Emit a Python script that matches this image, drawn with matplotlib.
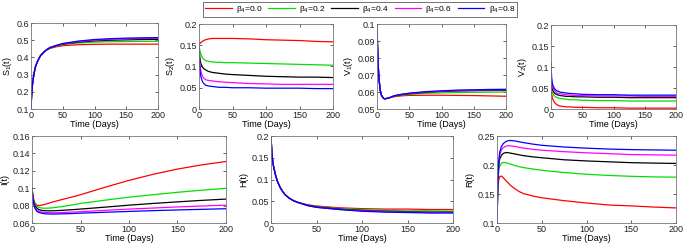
import matplotlib
matplotlib.use("Agg")
import matplotlib.pyplot as plt

plt.rcParams['font.family'] = ['Liberation Sans', 'DejaVu Sans']
plt.rcParams['mathtext.fontset'] = 'custom'
plt.rcParams['mathtext.rm'] = 'Liberation Sans'
plt.rcParams['mathtext.it'] = 'Liberation Sans'

# time grid (days)
T = [0, 1, 2, 3, 5, 7, 10, 12, 15, 20, 25, 30, 40, 50, 75, 100, 125, 150, 175, 200]

BETA4 = ['0.0', '0.2', '0.4', '0.6', '0.8']
COLORS = ['#ff0000', '#00e000', '#000000', '#ff00ff', '#0000ff']

# rows: beta4 = 0.0, 0.2, 0.4, 0.6, 0.8
S1 = [
    [0.10, 0.18, 0.23, 0.265, 0.31, 0.345, 0.375, 0.39, 0.41, 0.43, 0.443, 0.452, 0.462, 0.468, 0.474, 0.476, 0.477, 0.477, 0.477, 0.477],
    [0.10, 0.18, 0.23, 0.265, 0.31, 0.345, 0.375, 0.39, 0.41, 0.43, 0.444, 0.454, 0.466, 0.474, 0.484, 0.489, 0.491, 0.492, 0.493, 0.494],
    [0.10, 0.18, 0.23, 0.265, 0.31, 0.345, 0.375, 0.39, 0.41, 0.43, 0.445, 0.456, 0.468, 0.477, 0.489, 0.496, 0.500, 0.502, 0.504, 0.505],
    [0.10, 0.18, 0.23, 0.265, 0.31, 0.345, 0.375, 0.39, 0.41, 0.43, 0.445, 0.457, 0.469, 0.479, 0.492, 0.500, 0.505, 0.508, 0.510, 0.511],
    [0.10, 0.18, 0.23, 0.265, 0.31, 0.345, 0.375, 0.39, 0.41, 0.43, 0.446, 0.458, 0.470, 0.481, 0.495, 0.504, 0.509, 0.512, 0.514, 0.515],
]

S2 = [
    [0.150, 0.153, 0.155, 0.157, 0.159, 0.161, 0.163, 0.164, 0.165, 0.166, 0.166, 0.166, 0.166, 0.166, 0.165, 0.163, 0.162, 0.161, 0.159, 0.158],
    [0.150, 0.140, 0.133, 0.128, 0.121, 0.117, 0.114, 0.113, 0.112, 0.111, 0.110, 0.110, 0.109, 0.109, 0.108, 0.107, 0.106, 0.105, 0.104, 0.103],
    [0.145, 0.125, 0.113, 0.106, 0.099, 0.095, 0.092, 0.090, 0.088, 0.086, 0.085, 0.084, 0.082, 0.081, 0.079, 0.077, 0.076, 0.075, 0.075, 0.074],
    [0.140, 0.112, 0.097, 0.088, 0.078, 0.073, 0.069, 0.068, 0.067, 0.066, 0.065, 0.064, 0.063, 0.062, 0.060, 0.059, 0.058, 0.058, 0.058, 0.058],
    [0.135, 0.100, 0.084, 0.075, 0.065, 0.060, 0.056, 0.055, 0.054, 0.053, 0.052, 0.051, 0.051, 0.050, 0.050, 0.049, 0.049, 0.049, 0.048, 0.048],
]

V1 = [
    [0.100, 0.085, 0.075, 0.068, 0.061, 0.058, 0.0563, 0.0560, 0.0562, 0.0567, 0.0571, 0.0574, 0.0578, 0.0580, 0.0581, 0.0581, 0.0580, 0.0579, 0.0577, 0.0575],
    [0.100, 0.085, 0.075, 0.068, 0.061, 0.058, 0.0563, 0.0560, 0.0562, 0.0567, 0.0573, 0.0577, 0.0582, 0.0586, 0.0592, 0.0595, 0.0597, 0.0598, 0.0599, 0.0600],
    [0.100, 0.085, 0.075, 0.068, 0.061, 0.058, 0.0563, 0.0560, 0.0562, 0.0567, 0.0574, 0.0579, 0.0585, 0.0590, 0.0598, 0.0603, 0.0606, 0.0608, 0.0609, 0.0610],
    [0.100, 0.085, 0.075, 0.068, 0.061, 0.058, 0.0563, 0.0560, 0.0562, 0.0567, 0.0575, 0.0580, 0.0587, 0.0592, 0.0600, 0.0605, 0.0609, 0.0611, 0.0612, 0.0613],
    [0.100, 0.085, 0.075, 0.068, 0.061, 0.058, 0.0563, 0.0560, 0.0562, 0.0567, 0.0576, 0.0581, 0.0588, 0.0593, 0.0602, 0.0607, 0.0611, 0.0613, 0.0615, 0.0616],
]

V2 = [
    [0.045, 0.035, 0.028, 0.023, 0.017, 0.013, 0.010, 0.008, 0.007, 0.006, 0.005, 0.005, 0.004, 0.004, 0.003, 0.003, 0.002, 0.002, 0.002, 0.002],
    [0.055, 0.045, 0.040, 0.036, 0.032, 0.029, 0.027, 0.026, 0.025, 0.024, 0.023, 0.022, 0.022, 0.021, 0.020, 0.020, 0.019, 0.019, 0.019, 0.019],
    [0.070, 0.055, 0.048, 0.044, 0.039, 0.036, 0.034, 0.033, 0.032, 0.031, 0.030, 0.030, 0.029, 0.029, 0.028, 0.028, 0.027, 0.027, 0.027, 0.027],
    [0.090, 0.065, 0.055, 0.050, 0.045, 0.041, 0.038, 0.037, 0.036, 0.035, 0.034, 0.033, 0.032, 0.032, 0.031, 0.031, 0.031, 0.030, 0.030, 0.030],
    [0.110, 0.075, 0.062, 0.056, 0.050, 0.046, 0.043, 0.042, 0.040, 0.039, 0.038, 0.037, 0.036, 0.035, 0.034, 0.034, 0.033, 0.033, 0.033, 0.033],
]

I = [
    [0.100, 0.091, 0.086, 0.083, 0.0805, 0.0800, 0.0805, 0.0810, 0.0820, 0.0837, 0.0852, 0.0867, 0.0895, 0.0925, 0.1010, 0.1090, 0.1160, 0.1220, 0.1268, 0.1307],
    [0.100, 0.090, 0.085, 0.082, 0.0790, 0.0780, 0.0772, 0.0770, 0.0770, 0.0773, 0.0780, 0.0787, 0.0805, 0.0825, 0.0862, 0.0897, 0.0925, 0.0953, 0.0977, 0.0999],
    [0.100, 0.089, 0.084, 0.080, 0.0770, 0.0755, 0.0745, 0.0742, 0.0740, 0.0740, 0.0742, 0.0745, 0.0752, 0.0760, 0.0782, 0.0805, 0.0825, 0.0843, 0.0860, 0.0875],
    [0.100, 0.088, 0.082, 0.078, 0.0750, 0.0735, 0.0725, 0.0722, 0.0720, 0.0718, 0.0718, 0.0720, 0.0725, 0.0730, 0.0745, 0.0760, 0.0772, 0.0785, 0.0795, 0.0805],
    [0.100, 0.087, 0.081, 0.077, 0.0735, 0.0722, 0.0712, 0.0708, 0.0705, 0.0703, 0.0703, 0.0705, 0.0708, 0.0713, 0.0723, 0.0733, 0.0742, 0.0750, 0.0757, 0.0764],
]

H = [
    [0.200, 0.160, 0.140, 0.128, 0.110, 0.096, 0.082, 0.075, 0.066, 0.057, 0.051, 0.047, 0.042, 0.039, 0.035, 0.033, 0.032, 0.032, 0.031, 0.031],
    [0.200, 0.160, 0.140, 0.128, 0.110, 0.096, 0.082, 0.075, 0.066, 0.057, 0.051, 0.047, 0.041, 0.038, 0.033, 0.031, 0.029, 0.028, 0.028, 0.027],
    [0.200, 0.160, 0.140, 0.128, 0.110, 0.096, 0.082, 0.075, 0.066, 0.057, 0.051, 0.047, 0.041, 0.037, 0.032, 0.029, 0.027, 0.026, 0.025, 0.025],
    [0.200, 0.160, 0.140, 0.128, 0.110, 0.096, 0.082, 0.075, 0.066, 0.057, 0.051, 0.047, 0.040, 0.036, 0.031, 0.028, 0.026, 0.025, 0.024, 0.024],
    [0.200, 0.160, 0.140, 0.128, 0.110, 0.096, 0.082, 0.075, 0.066, 0.057, 0.051, 0.047, 0.040, 0.036, 0.031, 0.027, 0.025, 0.024, 0.023, 0.023],
]

R = [
    [0.100, 0.160, 0.175, 0.180, 0.181, 0.178, 0.173, 0.170, 0.165, 0.159, 0.154, 0.1505, 0.1465, 0.1435, 0.1385, 0.1345, 0.131, 0.1295, 0.1275, 0.126],
    [0.100, 0.170, 0.190, 0.198, 0.203, 0.2045, 0.204, 0.203, 0.2015, 0.199, 0.197, 0.1955, 0.193, 0.191, 0.187, 0.184, 0.182, 0.1805, 0.1795, 0.179],
    [0.100, 0.175, 0.200, 0.210, 0.217, 0.220, 0.2215, 0.2213, 0.2205, 0.219, 0.2175, 0.216, 0.214, 0.2125, 0.209, 0.207, 0.2055, 0.204, 0.2033, 0.2027],
    [0.100, 0.178, 0.205, 0.217, 0.226, 0.230, 0.2325, 0.2333, 0.233, 0.232, 0.2305, 0.229, 0.227, 0.2255, 0.223, 0.221, 0.2195, 0.218, 0.2175, 0.217],
    [0.100, 0.180, 0.208, 0.222, 0.232, 0.237, 0.2405, 0.2418, 0.2422, 0.2415, 0.240, 0.2385, 0.236, 0.234, 0.231, 0.229, 0.2275, 0.2265, 0.226, 0.2255],
]

W, HT = 685, 243


def rect(left, right, top, bottom):
    # pixel box -> figure fraction
    return [left / W, 1 - bottom / HT, (right - left) / W, (bottom - top) / HT]


panels = [
    (S1, r'S$_1$(t)', (0.1, 0.6), [0.1, 0.2, 0.3, 0.4, 0.5, 0.6], rect(31, 158, 23, 109), ['0.1', '0.2', '0.3', '0.4', '0.5', '0.6']),
    (S2, r'S$_2$(t)', (0, 0.2), [0, 0.05, 0.1, 0.15, 0.2], rect(199, 333, 24, 109), ['0', '0.05', '0.1', '0.15', '0.2']),
    (V1, r'V$_1$(t)', (0.05, 0.1), [0.05, 0.06, 0.07, 0.08, 0.09, 0.1], rect(377, 506, 24, 109), ['0.05', '0.06', '0.07', '0.08', '0.09', '0.1']),
    (V2, r'V$_2$(t)', (0, 0.2), [0, 0.05, 0.1, 0.15, 0.2], rect(551, 676, 25, 109), ['0', '0.05', '0.1', '0.15', '0.2']),
    (I, 'I(t)', (0.06, 0.16), [0.06, 0.08, 0.1, 0.12, 0.14, 0.16], rect(32, 226, 136, 223), ['0.06', '0.08', '0.1', '0.12', '0.14', '0.16']),
    (H, 'H(t)', (0, 0.2), [0, 0.05, 0.1, 0.15, 0.2], rect(271, 453, 136, 223), ['0', '0.05', '0.1', '0.15', '0.2']),
    (R, 'R(t)', (0.1, 0.25), [0.1, 0.15, 0.2, 0.25], rect(497, 676, 136, 223), ['0.1', '0.15', '0.2', '0.25']),
]

fig = plt.figure(figsize=(W / 100, HT / 100), dpi=100)

lines = []
for data, ylabel, ylim, yticks, box, yticklabels in panels:
    ax = fig.add_axes(box)
    for k, series in enumerate(data):
        ln, = ax.plot(T, series, color=COLORS[k], lw=0.9)
        if len(lines) < len(data):
            lines.append(ln)
    ax.set_xlim(0, 200)
    ax.set_ylim(*ylim)
    ax.set_xticks([0, 50, 100, 150, 200])
    ax.set_yticks(yticks)
    ax.set_yticklabels(yticklabels)
    ax.tick_params(direction='in', top=True, right=True, labelsize=6.5,
                   length=2, width=0.5, pad=1.5, colors='#222222')
    for sp in ax.spines.values():
        sp.set_linewidth(0.6)
        sp.set_color('#777777')
    ax.set_xlabel('Time (Days)', fontsize=6.5, labelpad=0)
    ax.set_ylabel(ylabel, fontsize=6.5, labelpad=2)

leg = fig.legend(lines, [r'$\beta_4$=' + b for b in BETA4], ncol=5,
                 loc='upper left', bbox_to_anchor=(203 / W, 1 - 2 / HT),
                 fontsize=6, frameon=True, fancybox=False, handlelength=3.2,
                 columnspacing=0.7, handletextpad=0.5, borderpad=0.25,
                 borderaxespad=0)
leg.get_frame().set_edgecolor('#333333')
leg.get_frame().set_linewidth(0.6)

fig.savefig('out.png', dpi=100)
